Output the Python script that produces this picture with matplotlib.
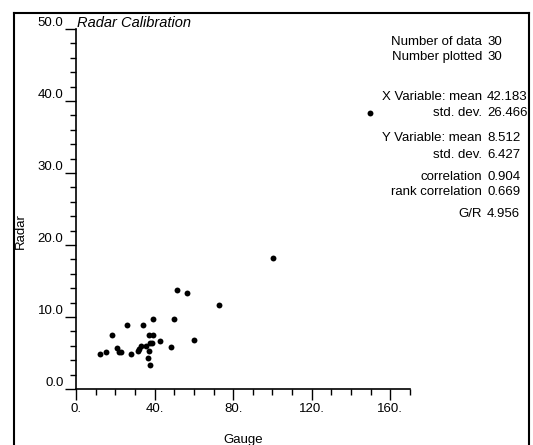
"""
Radar calibration scatter: radar vs gauge
"""
import matplotlib
matplotlib.use("Agg")
import matplotlib.pyplot as plt
from matplotlib.lines import Line2D
from matplotlib.ticker import MultipleLocator

plt.rcParams['font.family'] = ['Liberation Sans', 'DejaVu Sans']

# gauge / radar pairs
gauge = [12.1, 15.3, 18.5, 20.9, 21.7, 23.1, 26.0, 28.0, 31.6, 31.9,
         33.3, 34.0, 35.7, 37.0, 39.1, 37.0, 36.7, 37.7, 37.9, 38.7,
         39.1, 43.0, 48.2, 49.9, 51.6, 56.4, 60.1, 72.9, 100.2, 149.6]
radar = [4.9, 5.1, 7.5, 5.7, 5.2, 5.1, 8.9, 4.8, 5.3, 5.5,
         6.0, 8.9, 6.0, 7.5, 7.5, 5.3, 4.3, 3.3, 6.4, 6.4,
         9.7, 6.7, 5.9, 9.7, 13.8, 13.3, 6.8, 11.6, 18.2, 38.4]

stat_labels = ['Number of data', 'Number plotted', 'X Variable: mean', 'std. dev.',
               'Y Variable: mean', 'std. dev.', 'correlation', 'rank correlation', 'G/R']
stat_values = ['30', '30', '42.183', '26.466', '8.512', '6.427', '0.904', '0.669', '4.956']
stat_rows = [42, 57, 97, 113, 138, 155, 177, 192, 214]   # pixel rows from top

W, H = 533, 445
fig = plt.figure(figsize=(W / 100, H / 100), dpi=100)
ax = fig.add_axes([76 / W, 1 - 389 / H, (410 - 76) / W, (389 - 29) / H])

ax.scatter(gauge, radar, s=18, color='black', linewidths=0, clip_on=False)

ax.set_xlim(0, 170)
ax.set_ylim(0, 50)
ax.set_xticks([0, 40, 80, 120, 160])
ax.set_xticklabels(['0.', '40.', '80.', '120.', '160.'])
ax.set_yticks([0, 10, 20, 30, 40, 50])
ax.set_yticklabels(['0.0', '10.0', '20.0', '30.0', '40.0', '50.0'])
ax.xaxis.set_minor_locator(MultipleLocator(10))
ax.yaxis.set_minor_locator(MultipleLocator(2))
ax.tick_params(which='major', direction='out', length=8, width=1, labelsize=9.5, pad=2)
ax.tick_params(which='minor', direction='out', length=4, width=1)
ax.tick_params(axis='y', which='major', pad=1)
for lbl in ax.get_yticklabels():
    lbl.set_verticalalignment('bottom')

for side in ['top', 'right']:
    ax.spines[side].set_visible(False)
for side in ['left', 'bottom']:
    ax.spines[side].set_linewidth(1.2)

ax.set_xlabel('Gauge', fontsize=9.5, labelpad=14)
ax.set_ylabel('Radar', fontsize=9.5)
ax.yaxis.set_label_coords((27 - 76) / (410 - 76), (389 - 231) / (389 - 29))

fig.text(77 / W, 1 - 27 / H, 'Radar Calibration', fontsize=10.5, style='italic',
         ha='left', va='baseline')

for lab, val, row in zip(stat_labels, stat_values, stat_rows):
    fig.text(482 / W, 1 - row / H, lab, fontsize=9.5, ha='right', va='center')
    fig.text(487 / W, 1 - row / H, val, fontsize=9.5, ha='left', va='center')

# frame around the plot
for xs, ys in [([14, 14], [H + 5, 13]), ([14, 529], [13, 13]), ([529, 529], [13, H + 5])]:
    fig.add_artist(Line2D([x / W for x in xs], [1 - y / H for y in ys],
                          color='black', linewidth=1.5, transform=fig.transFigure))

fig.savefig('out.png', dpi=100)
